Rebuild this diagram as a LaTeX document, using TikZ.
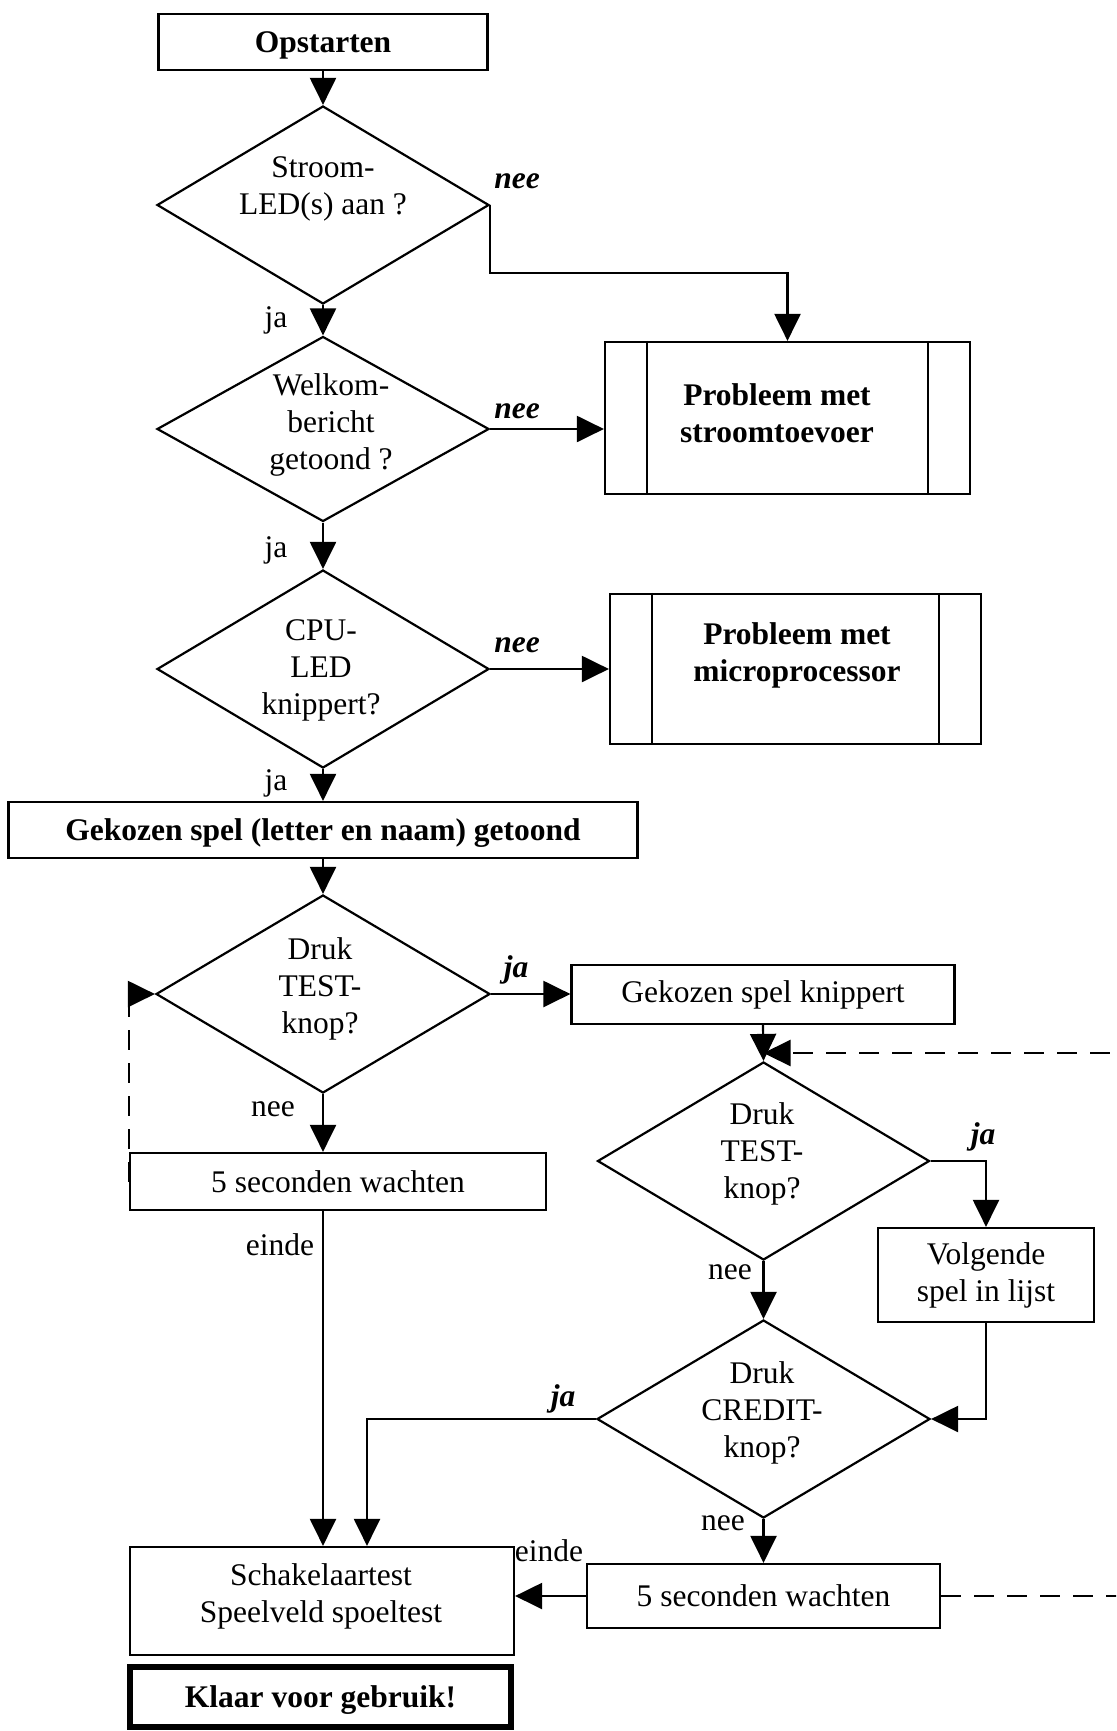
\documentclass[tikz,border=0pt]{standalone}
\usepackage{fontspec}
\setmainfont{Liberation Serif}
\usetikzlibrary{shapes.geometric, arrows.meta}
\newcommand\diagfont{\fontsize{31.5}{37}\selectfont}

\begin{document}
\begin{tikzpicture}[x=1pt, y=-1pt,
  every node/.style={font=\diagfont},
  box/.style={draw, line width=2.2pt, rectangle, inner sep=0pt, align=center},
  decision/.style={draw, line width=2.2pt, diamond, inner sep=0pt,
                   minimum width=332pt, minimum height=198pt},
  txt/.style={inner sep=0pt, align=center},
  boldtxt/.style={font=\diagfont\bfseries},
  oneline/.style={text height=21.5pt, text depth=0pt},
  lbl/.style={inner sep=0pt},
  lblbi/.style={inner sep=0pt, font=\diagfont\bfseries\itshape},
  arr/.style={line width=2.2pt, -{Triangle[length=27pt,width=26pt]}},
  dasharr/.style={arr, dash pattern=on 20pt off 13pt},
]
\useasboundingbox (0,0) rectangle (1116,1731);
\clip (0,0) rectangle (1116,1731);

% main column
\node[box, boldtxt, oneline, minimum width=329pt, minimum height=56pt] (start) at (323,42) {Opstarten};
\node[decision] (d1) at (323,205) {};
\node[txt] (d1t) at (323,189) {Stroom-\\LED(s) aan ?};
\node[decision, minimum height=185pt] (d2) at (323,429) {};
\node[txt] (d2t) at (331,425) {Welkom-\\bericht\\getoond ?};
\node[decision] (d3) at (323,669) {};
\node[txt] (d3t) at (321,670) {CPU-\\LED\\knippert?};
\node[box, boldtxt, oneline, minimum width=629pt, minimum height=56pt] (shown) at (323,830) {Gekozen spel (letter en naam) getoond};
\node[decision, minimum width=334pt] (d4) at (323,994) {};
\node[txt] (d4t) at (320,989) {Druk\\TEST-\\knop?};
\node[box, minimum width=416pt, minimum height=57pt] (wait1) at (338,1181.5) {5 seconden wachten};
\node[box, minimum width=384pt, minimum height=108pt] (switch) at (322,1601) {};
\node[txt] (switcht) at (321,1596) {Schakelaartest\\Speelveld spoeltest};
\node[box, boldtxt, oneline, line width=5.5pt, minimum width=381pt, minimum height=60pt] (ready) at (320.5,1697) {Klaar voor gebruik!};

% fault boxes
\node[box, minimum width=365pt, minimum height=152pt] (p1) at (787.5,418) {};
\node[txt, boldtxt] (p1t) at (777,413) {Probleem met\\stroomtoevoer};
\node[box, minimum width=371pt, minimum height=150pt] (p2) at (795.5,669) {};
\node[txt, boldtxt] (p2t) at (797,655) {Probleem met\\microprocessor};
\draw[line width=2.2pt]
  ([xshift=43pt]p1.north west) -- ([xshift=43pt]p1.south west)
  ([xshift=-43pt]p1.north east) -- ([xshift=-43pt]p1.south east)
  ([xshift=43pt]p2.north west) -- ([xshift=43pt]p2.south west)
  ([xshift=-43pt]p2.north east) -- ([xshift=-43pt]p2.south east);

% test branch
\node[box, minimum width=383pt, minimum height=59pt] (blink) at (763,994.5) {Gekozen spel knippert};
\node[decision] (d5) at (763.5,1161) {};
\node[txt] (d5t) at (762,1154) {Druk\\TEST-\\knop?};
\node[box, minimum width=216pt, minimum height=94pt] (next) at (986,1275) {Volgende\\spel in lijst};
\node[decision, minimum width=333pt] (d6) at (763.5,1419) {};
\node[txt] (d6t) at (762,1413) {Druk\\CREDIT-\\knop?};
\node[box, minimum width=353pt, minimum height=64pt] (wait2) at (763.5,1596) {5 seconden wachten};

% helper points
\coordinate (join) at (763.5,1053);
\coordinate (loopR) at (1150,1053);
\coordinate (swin) at ([xshift=45pt]switch.north);

% connectors
\draw[arr] (start.south) -- (d1.north);
\draw[arr] (d1.east) -- ++(0,68) -| (p1.north);
\draw[arr] (d1.south) -- (d2.north);
\draw[arr] (d2.east) -- (d2.east -| p1.west);
\draw[arr] (d2.south) -- (d3.north);
\draw[arr] (d3.east) -- (d3.east -| p2.west);
\draw[arr] (d3.south) -- (shown.north);
\draw[arr] (shown.south) -- (d4.north);
\draw[arr] (d4.east) -- (d4.east -| blink.west);
\draw[arr] (d4.south) -- (d4.south |- wait1.north);
\draw[dasharr] (wait1.west) -- (wait1.west |- d4.west) -- (d4.west);
\draw[arr] (wait1.south -| d4.south) -- (d4.south |- switch.north);
\draw[arr] (blink.south) -- (d5.north);
\draw[arr] (d5.east) -| (next.north);
\draw[arr] (d5.south) -- (d6.north);
\draw[arr] (next.south) |- (d6.east);
\draw[arr] (d6.west) -| (swin);
\draw[arr] (d6.south) -- (wait2.north);
\draw[arr] (wait2.west) -- (wait2.west -| switch.east);
\draw[dasharr] (wait2.east) -| (loopR) -- (join);

% branch labels
\node[lblbi] (l1) at (517,181) {nee};
\node[lbl] (l2) at (276,320) {ja};
\node[lblbi] (l3) at (517,411) {nee};
\node[lbl] (l4) at (276,550) {ja};
\node[lblbi] (l5) at (517,645) {nee};
\node[lbl] (l6) at (276,783) {ja};
\node[lblbi] (l7) at (516,970) {ja};
\node[lbl] (l8) at (273,1109) {nee};
\node[lbl] (l9) at (280,1245) {einde};
\node[lblbi] (l10) at (983,1137) {ja};
\node[lbl] (l11) at (730,1272) {nee};
\node[lblbi] (l12) at (563,1399) {ja};
\node[lbl] (l13) at (723,1523) {nee};
\node[lbl] (l14) at (549,1551) {einde};
\end{tikzpicture}
\end{document}
